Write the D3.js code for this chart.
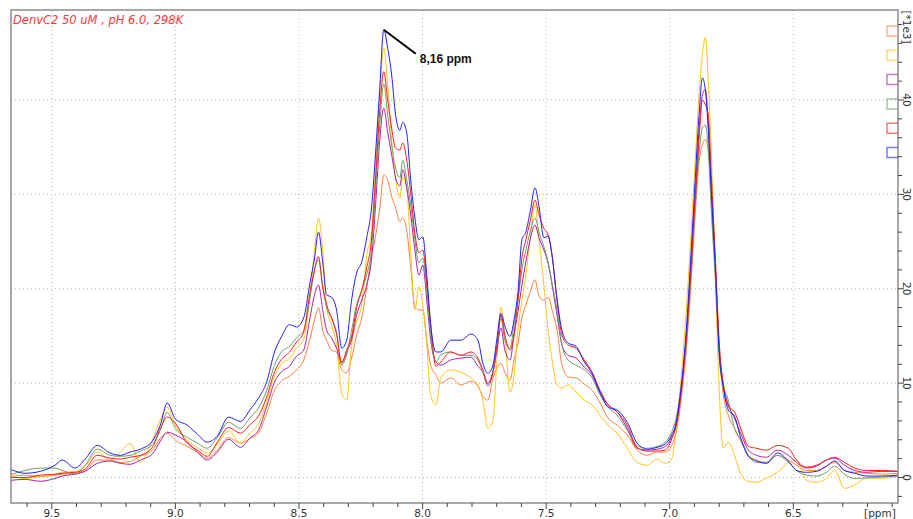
<!DOCTYPE html>
<html lang="en">
<head>
<meta charset="UTF-8">
<title>DenvC2 1H spectra</title>
<script src="https://d3js.org/d3.v7.min.js"></script>
<style>
  body { margin: 0; background: #fff; }
  svg { display: block; font-family: 'DejaVu Sans', sans-serif; }
  .grid line { stroke: #b4b4b4; stroke-dasharray: 1,3; }
  .spec { fill: none; stroke-width: 1; }
  .tick-lbl { font-size: 10.5px; fill: #333; }
</style>
</head>
<body>
<script>
// chemical shift grid (ppm) shared by all traces
const ppm = [9.665, 9.608, 9.547, 9.487, 9.458, 9.406, 9.365, 9.316, 9.264, 9.223,
  9.183, 9.142, 9.093, 9.061, 9.033, 9.000, 8.952, 8.911, 8.871, 8.830,
  8.785, 8.737, 8.696, 8.664, 8.631, 8.599, 8.571, 8.538, 8.510, 8.481,
  8.457, 8.437, 8.421, 8.404, 8.388, 8.368, 8.348, 8.327, 8.307, 8.287,
  8.267, 8.246, 8.226, 8.206, 8.190, 8.173, 8.157, 8.141, 8.125, 8.109,
  8.092, 8.080, 8.064, 8.048, 8.031, 8.015, 7.999, 7.983, 7.967, 7.946,
  7.926, 7.886, 7.845, 7.804, 7.776, 7.756, 7.736, 7.715, 7.699, 7.683,
  7.667, 7.646, 7.630, 7.614, 7.598, 7.582, 7.565, 7.545, 7.529, 7.509,
  7.492, 7.476, 7.456, 7.436, 7.411, 7.379, 7.346, 7.314, 7.282, 7.249,
  7.213, 7.172, 7.132, 7.091, 7.051, 7.018, 6.994, 6.974, 6.953, 6.933,
  6.913, 6.897, 6.880, 6.868, 6.856, 6.844, 6.832, 6.815, 6.799, 6.783,
  6.763, 6.738, 6.710, 6.682, 6.649, 6.609, 6.564, 6.520, 6.487, 6.447,
  6.406, 6.366, 6.333, 6.293, 6.252, 6.203, 6.143, 6.077];

// intensities, [*1e3]
const blueTrace = [0.85, 0.45, 0.65, 1.3, 1.85, 1.0, 1.95, 3.4, 2.6, 2.35,
  2.7, 3.0, 3.85, 5.55, 7.9, 6.2, 5.55, 4.6, 3.75, 4.4,
  6.4, 5.95, 7.25, 8.4, 10.1, 13.3, 14.9, 16.2, 15.95, 16.9,
  20.4, 23.25, 26.0, 22.85, 19.35, 19.1, 17.75, 13.7, 14.55, 18.8,
  21.65, 22.85, 25.4, 28.7, 34.4, 41.3, 47.45, 45.5, 42.65, 38.4,
  36.8, 37.65, 36.5, 31.55, 27.5, 25.2, 25.5, 21.45, 16.15, 13.3,
  13.3, 14.55, 14.55, 15.2, 14.55, 12.1, 11.05, 11.9, 14.75, 17.4,
  16.05, 14.95, 16.7, 19.65, 25.2, 26.0, 28.1, 30.7, 28.75, 25.4,
  25.6, 23.45, 18.9, 15.6, 14.25, 13.9, 12.25, 11.05, 9.05, 7.45,
  7.15, 5.85, 3.65, 3.0, 3.2, 3.55, 4.4, 5.85, 9.8, 15.6,
  24.1, 31.55, 38.95, 42.35, 41.1, 36.85, 30.5, 22.0, 13.0, 9.5,
  7.15, 6.5, 3.95, 2.25, 1.75, 1.5, 2.6, 1.75, 0.75, 0.55,
  0.65, 1.2, 1.75, 0.75, 0.45, 0.15, 0.15, 0.25];
const redTrace = [0.0, 0.0, 0.25, 0.35, 0.45, 0.55, 0.9, 2.35, 2.05, 1.95,
  2.15, 2.35, 3.2, 5.2, 6.4, 5.75, 3.65, 2.9, 2.25, 3.75,
  5.3, 4.7, 5.65, 6.5, 8.5, 11.2, 12.5, 13.3, 14.35, 15.4,
  19.35, 22.0, 23.4, 20.1, 18.3, 16.9, 15.2, 12.1, 13.5, 14.9,
  17.95, 19.85, 22.2, 25.4, 31.75, 38.95, 43.0, 40.0, 37.0, 34.9,
  34.7, 35.45, 33.65, 30.15, 25.9, 23.8, 24.1, 20.6, 16.15, 11.8,
  12.25, 13.3, 12.95, 13.3, 12.65, 11.4, 10.0, 11.15, 14.0, 17.2,
  15.1, 13.5, 15.1, 18.8, 23.25, 25.2, 27.1, 29.4, 27.85, 26.4,
  25.7, 23.6, 18.8, 15.1, 14.05, 13.7, 12.45, 11.15, 9.25, 7.7,
  6.95, 5.55, 3.2, 2.8, 2.8, 2.9, 3.95, 5.55, 9.25, 14.55,
  22.5, 29.4, 36.3, 40.0, 39.5, 38.4, 32.1, 23.05, 14.05, 9.8,
  7.55, 6.95, 5.0, 3.3, 3.1, 2.9, 3.4, 3.1, 1.85, 1.1,
  1.3, 1.85, 2.15, 1.6, 1.0, 0.75, 0.75, 0.65];
const greenTrace = [0.3, 0.75, 1.0, 1.0, 0.75, 0.35, 1.3, 3.0, 2.35, 2.25,
  2.35, 2.8, 3.5, 5.0, 6.9, 5.2, 4.25, 3.65, 3.1, 4.25,
  5.85, 5.2, 6.4, 7.35, 9.2, 11.9, 13.3, 13.9, 14.8, 15.6,
  18.8, 22.0, 23.05, 20.4, 18.0, 16.9, 15.4, 11.9, 13.0, 15.6,
  18.3, 19.85, 21.5, 24.3, 30.5, 37.35, 41.7, 38.4, 35.25, 32.8,
  31.75, 33.6, 31.55, 28.9, 25.2, 22.75, 23.25, 19.9, 15.1, 12.25,
  13.0, 13.3, 12.95, 12.95, 12.45, 11.15, 10.0, 11.4, 14.0, 16.9,
  14.55, 13.7, 16.15, 18.8, 22.0, 24.1, 26.0, 27.5, 26.0, 24.45,
  22.85, 20.6, 17.75, 14.05, 12.45, 11.9, 11.4, 10.55, 8.75, 7.45,
  6.6, 5.0, 3.4, 3.1, 3.3, 3.75, 4.7, 6.3, 9.8, 14.55,
  22.0, 28.9, 34.7, 37.05, 37.35, 34.7, 28.35, 20.9, 12.45, 9.8,
  8.2, 5.2, 3.95, 2.35, 1.6, 1.6, 2.35, 1.6, 0.75, 0.25,
  0.15, 0.55, 1.2, 0.35, -0.1, -0.05, 0.05, 0.15];
const purpleTrace = [-0.3, -0.2, -0.4, -0.1, 0.15, 0.35, 0.65, 1.5, 1.75, 1.5,
  1.4, 1.85, 2.5, 3.85, 4.8, 4.5, 3.75, 2.7, 1.85, 2.7,
  4.05, 3.2, 4.25, 5.0, 7.5, 10.1, 11.2, 11.8, 12.85, 13.5,
  16.7, 19.35, 20.4, 17.75, 15.6, 14.8, 13.7, 12.25, 13.3, 14.6,
  17.2, 18.8, 20.4, 23.25, 28.9, 35.8, 39.15, 36.6, 34.2, 31.75,
  30.9, 32.6, 30.7, 27.85, 24.1, 21.45, 22.5, 18.8, 14.55, 12.25,
  11.9, 12.45, 12.65, 12.75, 11.8, 11.15, 9.7, 11.15, 13.5, 15.85,
  13.5, 12.45, 15.1, 17.55, 20.4, 22.85, 25.2, 26.75, 25.4, 24.1,
  22.7, 20.4, 17.2, 14.05, 12.95, 12.65, 11.7, 10.85, 8.95, 7.7,
  6.95, 5.2, 3.1, 2.9, 3.0, 3.3, 4.15, 5.55, 9.25, 15.1,
  23.0, 29.95, 37.35, 40.55, 41.1, 37.35, 30.5, 21.45, 13.25, 9.8,
  7.7, 6.3, 4.5, 2.9, 2.35, 2.15, 2.9, 2.35, 1.6, 1.0,
  1.2, 1.85, 2.05, 1.3, 0.75, 0.55, 0.65, 0.65];
const yellowTrace = [0.1, -0.1, 0.1, 0.35, 0.55, 0.65, 1.2, 2.7, 1.85, 2.7,
  3.6, 1.6, 3.95, 6.1, 7.45, 5.55, 3.95, 3.2, 2.6, 3.55,
  4.9, 3.65, 4.8, 5.65, 8.0, 10.75, 12.0, 12.65, 13.7, 14.6,
  18.8, 24.1, 27.5, 24.1, 18.0, 16.15, 14.05, 8.9, 8.2, 14.0,
  16.5, 18.3, 23.5, 26.2, 33.1, 40.55, 45.5, 41.5, 35.8, 31.55,
  29.6, 31.85, 30.7, 23.8, 17.75, 20.2, 18.3, 14.05, 8.7, 7.7,
  10.55, 11.4, 11.15, 10.55, 9.8, 8.2, 5.2, 6.1, 12.45, 18.05,
  15.1, 9.05, 10.85, 15.6, 18.8, 21.45, 25.2, 28.9, 25.2, 20.4,
  15.6, 12.45, 9.8, 9.5, 9.8, 9.05, 8.2, 7.7, 6.6, 5.55,
  4.7, 3.1, 1.6, 1.3, 1.95, 1.5, 1.85, 5.0, 10.85, 17.75,
  26.2, 33.6, 41.1, 44.8, 46.6, 42.1, 34.7, 20.9, 8.75, 3.1,
  3.75, 2.35, 0.25, -0.4, -0.5, -0.05, 0.55, 1.6, 1.85, -0.3,
  -0.5, -0.1, 0.75, -1.15, -0.8, -0.05, -0.1, 0.15];
const orangeTrace = [0.1, 0.25, 0.1, 0.25, 0.35, 0.45, 0.75, 1.85, 1.85, 1.6,
  1.7, 2.25, 2.9, 4.15, 4.7, 3.95, 3.3, 2.7, 2.05, 2.9,
  4.25, 3.65, 4.15, 4.7, 6.8, 9.25, 10.2, 10.75, 11.4, 12.45,
  14.55, 16.7, 18.0, 15.6, 14.55, 13.5, 13.3, 11.4, 11.1, 12.65,
  15.1, 16.9, 20.1, 23.6, 25.6, 28.55, 32.05, 31.55, 29.75, 28.55,
  27.1, 27.5, 26.2, 22.35, 18.1, 17.75, 17.75, 14.55, 11.9, 10.85,
  10.0, 10.55, 9.8, 10.2, 9.7, 8.6, 8.2, 10.55, 11.6, 12.1,
  11.15, 10.3, 12.45, 14.25, 16.9, 18.3, 19.65, 20.95, 19.2, 18.8,
  19.1, 17.75, 15.6, 11.9, 10.65, 10.55, 9.9, 9.25, 7.9, 6.3,
  5.55, 4.5, 2.9, 2.35, 2.7, 2.7, 3.3, 4.8, 8.4, 13.5,
  20.9, 27.85, 33.65, 35.25, 35.8, 34.7, 29.95, 22.0, 13.25, 8.75,
  6.6, 5.2, 3.75, 2.35, 1.85, 1.6, 2.35, 1.85, 1.3, 0.75,
  0.75, 1.2, 1.6, 0.75, 0.55, 0.45, 0.35, 0.45];

// legend order, top to bottom
const traces = [orangeTrace, yellowTrace, purpleTrace, greenTrace, redTrace, blueTrace];
const traceColors = ["#ff8040", "#ffc41e", "#a820a8", "#6c9f6c", "#ff1a1a", "#1f1fff"];

const xMajor = [9.5, 9.0, 8.5, 8.0, 7.5, 7.0, 6.5];
const xMajorLabels = ["9.5", "9.0", "8.5", "8.0", "7.5", "7.0", "6.5"];
const yMajor = [0, 10, 20, 30, 40];
const yMajorLabels = ["0", "10", "20", "30", "40"];

const title = "DenvC2 50 uM , pH 6.0, 298K";
const peakNote = "8,16 ppm";

const W = 913, H = 519;
const box = { left: 11, top: 10, right: 898, bottom: 503 };

const x = d3.scaleLinear().domain([9.665, 6.0765]).range([box.left, box.right]);
const y = d3.scaleLinear().domain([0, 40]).range([477.5, 100]);

const svg = d3.select("body").append("svg")
    .attr("width", W)
    .attr("height", H);

// dotted grid
const grid = svg.append("g").attr("class", "grid");
grid.selectAll(".gx").data(xMajor).enter().append("line")
    .attr("x1", d => x(d)).attr("x2", d => x(d))
    .attr("y1", box.top).attr("y2", box.bottom);
grid.selectAll(".gy").data(yMajor).enter().append("line")
    .attr("x1", box.left).attr("x2", box.right)
    .attr("y1", d => y(d)).attr("y2", d => y(d));

svg.append("defs").append("clipPath").attr("id", "plot")
    .append("rect")
    .attr("x", box.left).attr("y", box.top)
    .attr("width", box.right - box.left).attr("height", box.bottom - box.top);

const line = d3.line()
    .x((d, i) => x(ppm[i]))
    .y(d => y(d))
    .curve(d3.curveMonotoneX);

svg.append("g").attr("clip-path", "url(#plot)")
    .selectAll("path").data(traces).enter().append("path")
    .attr("class", "spec")
    .attr("stroke", (d, i) => traceColors[i])
    .attr("d", line);

// frame
svg.append("rect")
    .attr("x", box.left).attr("y", box.top)
    .attr("width", box.right - box.left).attr("height", box.bottom - box.top)
    .attr("fill", "none").attr("stroke", "#8c8c8c").attr("stroke-width", 1.5);

// bottom axis: minor ticks every 0.1 ppm
const xMinor = d3.range(96, 60, -1).map(d => d / 10);
svg.append("g").selectAll("line").data(xMinor).enter().append("line")
    .attr("x1", d => x(d)).attr("x2", d => x(d))
    .attr("y1", box.bottom)
    .attr("y2", d => box.bottom + (xMajor.some(m => Math.abs(m - d) < 1e-6) ? 6 : 4))
    .attr("stroke", "#444");
svg.append("g").selectAll("text").data(xMajor).enter().append("text")
    .attr("class", "tick-lbl")
    .attr("x", d => x(d)).attr("y", 517)
    .attr("text-anchor", "middle")
    .text((d, i) => xMajorLabels[i]);
svg.append("text").attr("class", "tick-lbl")
    .attr("x", 880).attr("y", 516.5)
    .attr("text-anchor", "middle")
    .text("[ppm]");

// right axis
const yMinor = d3.range(-2, 49, 2);
svg.append("g").selectAll("line").data(yMinor).enter().append("line")
    .attr("x1", box.right)
    .attr("x2", d => box.right + (d % 10 === 0 ? 6 : 4))
    .attr("y1", d => y(d)).attr("y2", d => y(d))
    .attr("stroke", "#444");
svg.append("g").selectAll("text").data(yMajor).enter().append("text")
    .attr("class", "tick-lbl")
    .attr("transform", d => `translate(903,${y(d)}) rotate(90)`)
    .attr("text-anchor", "middle")
    .text((d, i) => yMajorLabels[i]);
svg.append("text").attr("class", "tick-lbl")
    .attr("transform", "translate(903,27) rotate(90)")
    .attr("text-anchor", "middle")
    .text("[*1e3]");

// legend swatches against the right frame
svg.append("g").selectAll("path").data(traceColors).enter().append("path")
    .attr("d", (c, i) => {
        const yc = 31 + i * 24.3;
        return `M${box.right},${yc - 5}H${box.right - 11}V${yc + 5}H${box.right}`;
    })
    .attr("fill", "none")
    .attr("stroke", c => c)
    .attr("stroke-opacity", 0.6)
    .attr("stroke-width", 1.5);

// title
svg.append("text")
    .attr("x", 13).attr("y", 24)
    .attr("fill", "#ff3a3a")
    .attr("font-style", "italic")
    .attr("font-size", "11.5px")
    .text(title);

// peak annotation
const px = x(8.157), py = y(47.45);
svg.append("line")
    .attr("x1", px).attr("y1", py)
    .attr("x2", px + 32).attr("y2", py + 24)
    .attr("stroke", "#000").attr("stroke-width", 2);
svg.append("text")
    .attr("x", px + 36).attr("y", py + 33)
    .attr("font-family", "'Liberation Sans', sans-serif")
    .attr("font-weight", "bold")
    .attr("font-size", "12px")
    .attr("fill", "#111")
    .text(peakNote);
</script>
</body>
</html>
